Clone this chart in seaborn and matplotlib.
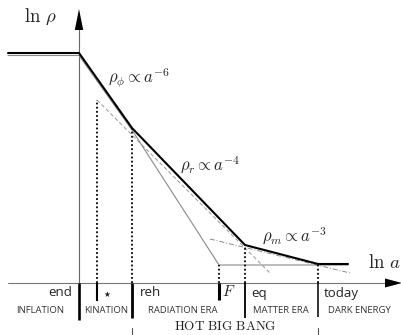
import numpy as np
import pandas as pd
import matplotlib
matplotlib.use("Agg")
import matplotlib.pyplot as plt
import seaborn as sns

sns.set_theme(style="white")
plt.rcParams["mathtext.fontset"] = "cm"
plt.rcParams["font.family"] = ["Open Sans", "DejaVu Sans"]

# Epoch markers along ln a
epoch_names = ["end", "star", "reh", "F", "eq", "today"]
epoch_lna = [0.0, 1.8, 5.3, 14.0, 16.6, 23.9]

# Total energy density (thick black broken line)
total_lna = [-7.1, 0.0, 5.3, 16.6, 23.9, 26.9]
total_lnrho = [23.0, 23.0, 15.5, 3.8, 1.9, 1.9]

# Scalar field: plateau, then rho_phi ~ a^-6 down to F, then constant
phi_lna = [-7.1, 0.0, 5.3, 14.0, 26.9]
phi_lnrho = [22.75, 22.75, 15.3, 1.8, 1.8]

# Radiation extrapolation rho_r ~ a^-4
rad_lna = [1.8, 19.1]
rad_lnrho = [18.3, 1.0]

# Matter extrapolation rho_m ~ a^-3
mat_lna = [13.1, 27.1]
mat_lnrho = [4.4, 1.0]

# Height where each dotted epoch guide stops
guide_top = [0.0, 18.3, 15.5, 1.8, 3.8, 1.9]

# Epoch tick lengths below the axis and widths
tick_depth = [3.7, 1.8, 3.5, 1.7, 3.5, 3.4]
tick_width = [1.9, 1.5, 2.0, 2.2, 1.3, 1.1]

era_labels = ["INFLATION", "KINATION", "RADIATION ERA", "MATTER ERA", "DARK ENERGY"]
era_centers = [-3.9, 2.7, 10.4, 20.2, 28.0]

fig = plt.figure(figsize=(4.02, 3.35), dpi=100)
ax = fig.add_axes([0, 0, 1, 1])
ax.set_xlim(-7.9, 32.3)
ax.set_ylim(-5.2, 28.3)
ax.axis("off")

def draw(xs, ys, **kw):
    df = pd.DataFrame({"x": xs, "y": ys})
    sns.lineplot(data=df, x="x", y="y", sort=False, estimator=None, ax=ax, **kw)

# Axes with arrow heads
ax.plot([-7.1, 30.8], [0, 0], color="#777777", lw=0.8, zorder=1)
ax.plot([0, 0], [0, 25.5], color="#666666", lw=0.8, zorder=1)
ax.fill([30.6, 32.3, 30.6], [0.45, 0, -0.45], color="black", lw=0, zorder=3)
ax.fill([-0.42, 0, 0.42], [25.3, 27.4, 25.3], color="black", lw=0, zorder=3)

# Component curves
draw(phi_lna, phi_lnrho, color="#8a8a8a", lw=0.8, zorder=2)
draw(rad_lna, rad_lnrho, color="#9a9a9a", lw=0.7, linestyle=(0, (4, 2.5)), zorder=2)
draw(mat_lna, mat_lnrho, color="#8a8a8a", lw=0.7, linestyle=(0, (5, 2, 1, 2)), zorder=2)
draw(total_lna, total_lnrho, color="black", lw=1.5, zorder=4)

# Dotted guides and epoch ticks
for x, top, dep, w in zip(epoch_lna, guide_top, tick_depth, tick_width):
    if top > 0:
        ax.plot([x, x], [0, top], color="black", lw=1.3, linestyle=(0, (1, 1.3)), zorder=2)
    ax.plot([x, x], [0, -dep], color="black", lw=w, solid_capstyle="butt", zorder=3)

# Span marks for the hot big bang
for x in [epoch_lna[2], epoch_lna[5]]:
    ax.plot([x, x], [-4.5, -5.2], color="#555555", lw=0.8, zorder=3)

# Axis labels
ax.text(-3.9, 26.6, r"$\ln\,\rho$", fontsize=13.5, ha="center", va="center")
ax.text(28.9, 2.0, r"$\ln\,a$", fontsize=13.5, ha="left", va="center")

# Scaling laws
ax.text(2.9, 20.5, r"$\rho_\phi \propto a^{-6}$", fontsize=12, ha="left", va="center")
ax.text(10.1, 11.8, r"$\rho_r \propto a^{-4}$", fontsize=12, ha="left", va="center")
ax.text(18.3, 4.7, r"$\rho_m \propto a^{-3}$", fontsize=12, ha="left", va="center")

# Epoch names
ax.text(-0.7, -1.0, "end", fontsize=9.5, ha="right", va="center", color="#222222")
ax.text(2.5, -1.1, "\u2605", fontsize=5.5, ha="left", va="center", color="#222222",
        family=["DejaVu Sans"])
ax.text(6.1, -1.0, "reh", fontsize=9.5, ha="left", va="center", color="#222222")
ax.text(14.3, -1.0, r"$F$", fontsize=11, ha="left", va="center")
ax.text(17.2, -1.0, "eq", fontsize=9.5, ha="left", va="center", color="#222222")
ax.text(24.5, -1.0, "today", fontsize=9.5, ha="left", va="center", color="#222222")

# Era names
for lab, cx in zip(era_labels, era_centers):
    ax.text(cx, -2.75, lab, fontsize=6.8, ha="center", va="center", color="#333333")

ax.text(14.6, -4.4, r"$\mathrm{HOT\ BIG\ BANG}$", fontsize=9.5, ha="center", va="center",
        color="#222222")

fig.savefig("out.png", dpi=100)
